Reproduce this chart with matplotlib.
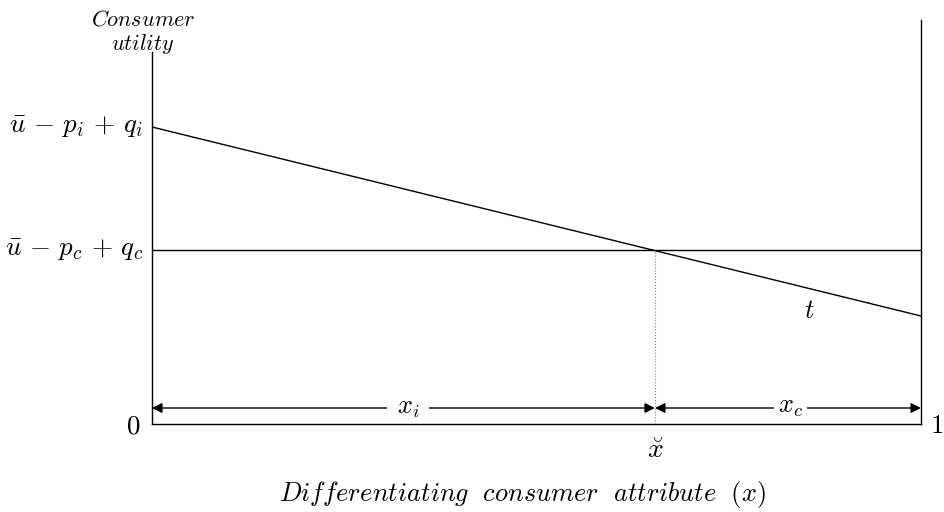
"""Hotelling-style consumer utility diagram."""

import matplotlib
matplotlib.use("Agg")
import matplotlib.pyplot as plt

plt.rcParams["mathtext.fontset"] = "cm"

# data (arbitrary utility units, x in [0, 1])
x_breve = 0.654
x_line = [0.0, 1.0]
u_incumbent = [297, 108]        # sloped line, u - p_i + q_i at x=0
u_challenger = [174, 174]       # flat line, u - p_c + q_c
y_ticks = [297, 174]
y_ticklabels = [r"$\bar{u}\,-\,p_i\,+\,q_i$", r"$\bar{u}\,-\,p_c\,+\,q_c$"]
arrow_y = 16
left_top = 372
right_top = 404

fig = plt.figure(figsize=(9.45, 5.12), dpi=100)
ax = fig.add_axes([152 / 945, 88 / 512, 769 / 945, 404 / 512])
ax.set_xlim(0, 1)
ax.set_ylim(0, right_top)
for s in ax.spines.values():
    s.set_visible(False)
ax.set_xticks([])
ax.set_yticks([])

lw = 1.0
# frame: left axis (shorter), right axis (taller), bottom
ax.plot([0, 0], [0, left_top], color="black", lw=lw, clip_on=False, zorder=5)
ax.plot([1, 1], [0, right_top], color="black", lw=lw, clip_on=False, zorder=5)
ax.plot([0, 1], [0, 0], color="black", lw=lw, clip_on=False, zorder=5)

ax.plot(x_line, u_incumbent, color="black", lw=lw)
ax.plot(x_line, u_challenger, color="black", lw=lw)
ax.plot([x_breve, x_breve], [0, u_challenger[0]], color="gray", lw=0.8, ls=":")

# dimension arrows
ap = dict(arrowstyle="<|-|>", color="black", lw=lw, shrinkA=0, shrinkB=0,
          mutation_scale=15)
ax.annotate("", xy=(0, arrow_y), xytext=(x_breve, arrow_y), arrowprops=ap)
ax.annotate("", xy=(x_breve, arrow_y), xytext=(1, arrow_y), arrowprops=ap)
ax.text(0.333, arrow_y + 1, r"$x_i\;\;$", fontsize=19, ha="center", va="center",
        bbox=dict(facecolor="white", edgecolor="none", pad=7))
ax.text(0.83, arrow_y + 2, r"$x_c$", fontsize=19, ha="center", va="center",
        bbox=dict(facecolor="white", edgecolor="none", pad=3))

# labels
for yv, lab in zip(y_ticks, y_ticklabels):
    ax.text(-0.012, yv, lab, fontsize=19.5, ha="right", va="center")
ax.text(-0.025, -2, "$0$", fontsize=19.5, ha="center", va="center")
ax.text(1.021, -2, "$1$", fontsize=19.5, ha="center", va="center")
ax.text(x_breve, -26, r"$\breve{x}$", fontsize=20, ha="center", va="center")
ax.text(0.855, 113, "$t$", fontsize=19, ha="center", va="center")
ax.text(-0.012, 405, "$Consumer$", fontsize=16, ha="center", va="center")
ax.text(-0.012, 380, "$utility$", fontsize=16, ha="center", va="center")
ax.text(0.481, -70, r"$Differentiating\ \ consumer\ \ attribute\ \ (x)$",
        fontsize=19, ha="center", va="center")

fig.savefig("out.png", dpi=100)
